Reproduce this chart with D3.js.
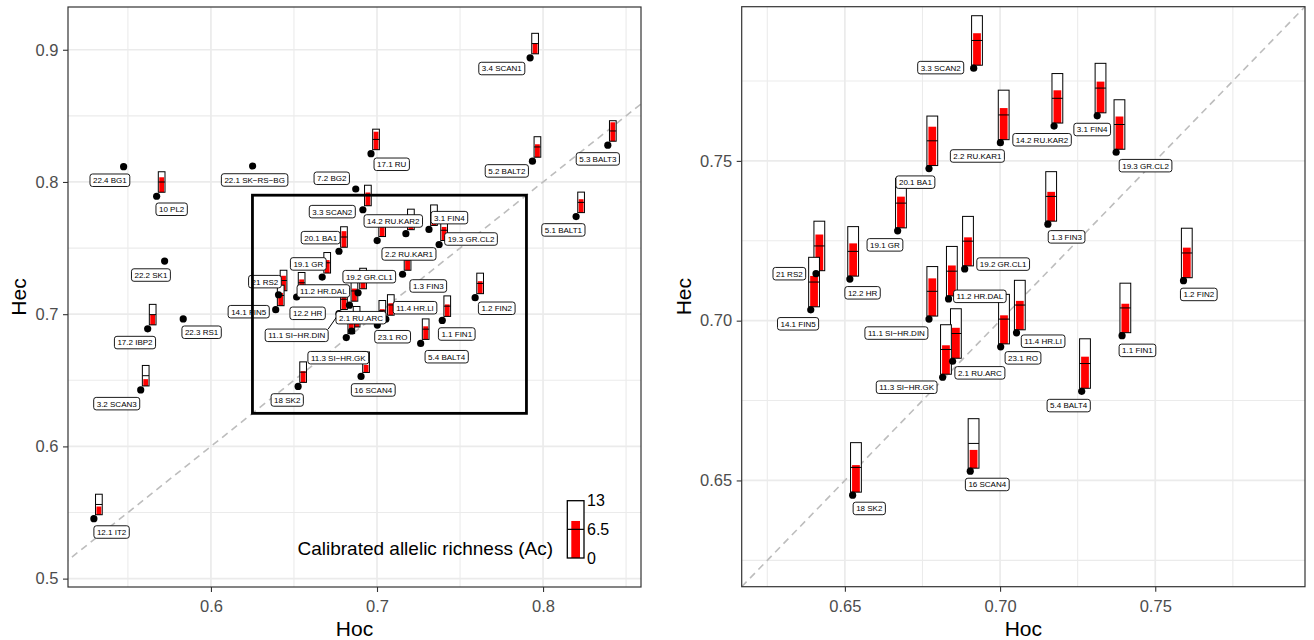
<!DOCTYPE html>
<html>
<head>
<meta charset="utf-8">
<script src="https://cdn.jsdelivr.net/npm/d3@7"></script>
<style>
  body { margin: 0; background: #fff; }
  text { font-family: "Liberation Sans", Arial, Helvetica, sans-serif; }
</style>
</head>
<body>
<svg id="chart" width="1314" height="640"></svg>
<script>
// Population labels
const popNames = [
  "22.4 BG1", "10 PL2", "22.1 SK-RS-BG", "7.2 BG2", "22.2 SK1", "17.2 IBP2", "22.3 RS1", "3.2 SCAN3", "12.1 IT2",
  "3.4 SCAN1", "17.1 RU", "5.2 BALT2", "5.3 BALT3", "5.1 BALT1",
  "3.3 SCAN2", "2.2 RU.KAR1", "20.1 BA1", "19.1 GR", "21 RS2", "14.1 FIN5", "12.2 HR", "19.2 GR.CL1",
  "11.2 HR.DAL", "11.1 SI-HR.DIN", "2.1 RU.ARC", "11.3 SI-HR.GK", "23.1 RO", "11.4 HR.LI", "14.2 RU.KAR2",
  "3.1 FIN4", "19.3 GR.CL2", "1.3 FIN3", "1.2 FIN2", "1.1 FIN1", "5.4 BALT4", "18 SK2", "16 SCAN4"
];
// Observed heterozygosity (x)
const hoc = [
  0.5474, 0.5673, 0.6251, 0.6872, 0.5721, 0.5619, 0.5833, 0.5577, 0.5295,
  0.7922, 0.6964, 0.7936, 0.8390, 0.8199,
  0.6915, 0.7001, 0.6771, 0.6670, 0.6407, 0.6390, 0.6516, 0.6886,
  0.6834, 0.6771, 0.6847, 0.6815, 0.7002, 0.7053, 0.7174,
  0.7313, 0.7374, 0.7154, 0.7591, 0.7393, 0.7263, 0.6525, 0.6904
];
// Expected heterozygosity (y)
const hec = [
  0.8116, 0.7892, 0.8121, 0.7947, 0.7402, 0.6889, 0.6964, 0.6427, 0.5453,
  0.8939, 0.8214, 0.8157, 0.8278, 0.7738,
  0.7790, 0.7557, 0.7476, 0.7281, 0.7147, 0.7034, 0.7130, 0.7162,
  0.7068, 0.7005, 0.6873, 0.6823, 0.6918, 0.6962, 0.7609,
  0.7641, 0.7527, 0.7302, 0.7125, 0.6953, 0.6779, 0.6454, 0.6529
];
// Calibrated allelic richness (null = not available)
const acValues = [
  null, 9.5, null, null, null, 6.5, null, 4.3, 5.2,
  6.7, 11.4, 8.2, 12.0, 8.5,
  8.4, 8.3, 10.2, 8.2, 9.5, 8.1, 8.6, 7.5,
  8.0, 9.9, 8.0, 7.6, 7.5, 7.6, 8.6,
  8.2, 8.6, 7.7, 7.9, 7.6, 8.3, 7.1, 4.8
];
const acMax = 13;
const legendAc = 8.4;
const legendTicks = [0, 6.5, 13];

// axis limits (before ggplot's 5% expansion)
const leftXLimits = [0.5296, 0.8433];
const leftYLimits = [0.5136, 0.9124];
// zoom window shown in the right panel
const zoomLimits = [0.625, 0.79];

const leftXTicks = [0.6, 0.7, 0.8];
const leftYTicks = [0.5, 0.6, 0.7, 0.8, 0.9];
const leftMinor = [0.55, 0.65, 0.75, 0.85];
const rightTicks = [0.65, 0.70, 0.75];
const rightMinor = [0.625, 0.675, 0.725, 0.775];

// label placement (pixel nudges from each point, as ggrepel placed them)
const labelNudgeLeft = {
  "22.4 BG1": [-13.7, 13.6], "10 PL2": [15, 13], "22.1 SK-RS-BG": [2, 14], "7.2 BG2": [-24, -10.7],
  "22.2 SK1": [-13.7, 14], "17.2 IBP2": [-12.7, 13.7], "22.3 RS1": [18.4, 13.3], "3.2 SCAN3": [-24, 13.7],
  "12.1 IT2": [17.7, 13.3], "3.4 SCAN1": [-28.3, 10.7], "17.1 RU": [20.7, 10.6], "5.2 BALT2": [-25.6, 9.7],
  "5.3 BALT3": [-10, 13.7], "5.1 BALT1": [-12.7, 13.3],
  "3.3 SCAN2": [-30.6, 1.9], "2.2 RU.KAR1": [31.8, 13.4], "20.1 BA1": [-18.3, -13.6], "19.1 GR": [-13.9, -13.1],
  "21 RS2": [-13.6, -13.1], "14.1 FIN5": [-27, 2], "12.2 HR": [11, 16.3], "19.2 GR.CL1": [11.2, -16.1],
  "11.2 HR.DAL": [-26.1, -14.2], "11.1 SI-HR.DIN": [-42.3, 21.8], "2.1 RU.ARC": [9.4, -13.3], "11.3 SI-HR.GK": [-8, 20.1],
  "23.1 RO": [15.3, 11.7], "11.4 HR.LI": [29.2, -11.5], "14.2 RU.KAR2": [-12.6, -12.7], "3.1 FIN4": [20.4, -11.8],
  "19.3 GR.CL2": [31.9, -5.5], "1.3 FIN3": [25.7, 11.7], "1.2 FIN2": [21.6, 10.6], "1.1 FIN1": [14.5, 13.6],
  "5.4 BALT4": [26, 13.3], "18 SK2": [-10.9, 13.6], "16 SCAN4": [12.2, 13.5]
};
const labelNudgeRight = {
  "3.3 SCAN2": [-33, -0.6], "2.2 RU.KAR1": [-23, 13.3], "20.1 BA1": [-13.6, 13.6], "19.1 GR": [-12.7, 14],
  "21 RS2": [-26.7, 0], "14.1 FIN5": [-12.7, 14], "12.2 HR": [12.7, 13.7], "19.2 GR.CL1": [38.5, -4.8],
  "11.2 HR.DAL": [31.3, -2.6], "11.1 SI-HR.DIN": [-32.6, 14], "2.1 RU.ARC": [27.3, 11.6], "11.3 SI-HR.GK": [-36, 10],
  "23.1 RO": [22.3, 11], "11.4 HR.LI": [26.6, 8.4], "14.2 RU.KAR2": [-12, 13.7], "3.1 FIN4": [-5, 13.7],
  "19.3 GR.CL2": [29.4, 13.4], "1.3 FIN3": [18.7, 12.7], "1.2 FIN2": [15.3, 13.7], "1.1 FIN1": [15.4, 14.7],
  "5.4 BALT4": [-13, 14.3], "18 SK2": [16.6, 13.3], "16 SCAN4": [17, 13.3]
};
const segmentLabelsLeft = ["11.1 SI-HR.DIN"];

const data = popNames.map((name, i) => ({ name, hoc: hoc[i], hec: hec[i], ac: acValues[i] }));

const svg = d3.select("#chart");

// expand limits by 5% like ggplot does
function expand(lim) {
  const r = lim[1] - lim[0];
  return [lim[0] - 0.05 * r, lim[1] + 0.05 * r];
}

const panels = [
  {
    id: "left",
    left: 68, right: 641, top: 7, bottom: 587,
    xDomain: expand(leftXLimits),
    yDomain: expand(leftYLimits),
    xTicks: leftXTicks, yTicks: leftYTicks, xMinor: leftMinor, yMinor: leftMinor,
    fmt: d3.format(".1f"),
    thermo: { w: 6.7, h: 20.5, dx: 5, dy: 4 },
    nudge: labelNudgeLeft,
    segments: segmentLabelsLeft,
    rows: data,
    yTitleX: 26
  },
  {
    id: "right",
    left: 741.7, right: 1305, top: 6.7, bottom: 586.7,
    xDomain: expand(zoomLimits),
    yDomain: expand(zoomLimits),
    xTicks: rightTicks, yTicks: rightTicks, xMinor: rightMinor, yMinor: rightMinor,
    fmt: d3.format(".2f"),
    thermo: { w: 10.8, h: 49.5, dx: 3.3, dy: 3 },
    nudge: labelNudgeRight,
    segments: [],
    rows: data.filter(d => d.hoc >= zoomLimits[0] && d.hoc <= zoomLimits[1] &&
                           d.hec >= zoomLimits[0] && d.hec <= zoomLimits[1]),
    yTitleX: 691
  }
];

panels.forEach(p => {
  const x = d3.scaleLinear().domain(p.xDomain).range([p.left, p.right]);
  const y = d3.scaleLinear().domain(p.yDomain).range([p.bottom, p.top]);

  const g = svg.append("g");
  g.append("clipPath").attr("id", "clip-" + p.id)
    .append("rect")
    .attr("x", p.left).attr("y", p.top)
    .attr("width", p.right - p.left).attr("height", p.bottom - p.top);

  const inner = g.append("g").attr("clip-path", `url(#clip-${p.id})`);

  // grid
  inner.selectAll(".vminor").data(p.xMinor).enter().append("line")
    .attr("x1", d => x(d)).attr("x2", d => x(d))
    .attr("y1", p.top).attr("y2", p.bottom)
    .attr("stroke", "#ebebeb").attr("stroke-width", 1.1);
  inner.selectAll(".hminor").data(p.yMinor).enter().append("line")
    .attr("y1", d => y(d)).attr("y2", d => y(d))
    .attr("x1", p.left).attr("x2", p.right)
    .attr("stroke", "#ebebeb").attr("stroke-width", 1.1);
  inner.selectAll(".vmajor").data(p.xTicks).enter().append("line")
    .attr("x1", d => x(d)).attr("x2", d => x(d))
    .attr("y1", p.top).attr("y2", p.bottom)
    .attr("stroke", "#ebebeb").attr("stroke-width", 1.7);
  inner.selectAll(".hmajor").data(p.yTicks).enter().append("line")
    .attr("y1", d => y(d)).attr("y2", d => y(d))
    .attr("x1", p.left).attr("x2", p.right)
    .attr("stroke", "#ebebeb").attr("stroke-width", 1.7);

  // 1:1 line
  const dLo = Math.min(p.xDomain[0], p.yDomain[0]);
  const dHi = Math.max(p.xDomain[1], p.yDomain[1]);
  inner.append("line")
    .attr("x1", x(dLo)).attr("y1", y(dLo))
    .attr("x2", x(dHi)).attr("y2", y(dHi))
    .attr("stroke", "#bdbdbd").attr("stroke-width", 1.6)
    .attr("stroke-dasharray", "7,5");

  // thermometers
  const t = p.thermo;
  const thermoRows = p.rows.filter(d => d.ac != null);
  const th = inner.selectAll(".thermo").data(thermoRows).enter().append("g");
  th.append("rect")
    .attr("x", d => x(d.hoc) + t.dx - t.w / 2)
    .attr("y", d => y(d.hec) - t.dy - t.h)
    .attr("width", t.w).attr("height", t.h)
    .attr("fill", "#fff");
  th.append("rect")
    .attr("x", d => x(d.hoc) + t.dx - t.w * 0.36)
    .attr("y", d => y(d.hec) - t.dy - t.h * d.ac / acMax)
    .attr("width", t.w * 0.72)
    .attr("height", d => t.h * d.ac / acMax)
    .attr("fill", "#ff0000");
  th.append("line")
    .attr("x1", d => x(d.hoc) + t.dx - t.w / 2)
    .attr("x2", d => x(d.hoc) + t.dx + t.w / 2)
    .attr("y1", d => y(d.hec) - t.dy - t.h / 2)
    .attr("y2", d => y(d.hec) - t.dy - t.h / 2)
    .attr("stroke", "#000").attr("stroke-width", 1);
  th.append("rect")
    .attr("x", d => x(d.hoc) + t.dx - t.w / 2)
    .attr("y", d => y(d.hec) - t.dy - t.h)
    .attr("width", t.w).attr("height", t.h)
    .attr("fill", "none").attr("stroke", "#000").attr("stroke-width", 1);

  // points
  inner.selectAll(".pt").data(p.rows).enter().append("circle")
    .attr("cx", d => x(d.hoc)).attr("cy", d => y(d.hec))
    .attr("r", 3.6).attr("fill", "#000");

  // labels
  const lab = inner.selectAll(".lab").data(p.rows).enter().append("g");
  lab.each(function(d) {
    const sel = d3.select(this);
    const nd = p.nudge[d.name] || [0, 14];
    const cx = x(d.hoc) + nd[0];
    const cy = y(d.hec) + nd[1];
    const txt = sel.append("text")
      .attr("x", cx).attr("y", cy + 2.9)
      .attr("text-anchor", "middle")
      .attr("font-size", 8)
      .attr("fill", "#000")
      .text(d.name.replace(/-/g, "\u2212"));
    const tw = txt.node().getComputedTextLength();
    const bw = tw + 6, bh = 12.5;
    if (p.segments.includes(d.name)) {
      const px = x(d.hoc), py = y(d.hec);
      const ex = Math.max(cx - bw / 2, Math.min(px, cx + bw / 2));
      const ey = Math.max(cy - bh / 2, Math.min(py, cy + bh / 2));
      sel.insert("line", "text")
        .attr("x1", ex).attr("y1", ey).attr("x2", px).attr("y2", py)
        .attr("stroke", "#000").attr("stroke-width", 1);
    }
    sel.insert("rect", "text")
      .attr("x", cx - bw / 2).attr("y", cy - bh / 2)
      .attr("width", bw).attr("height", bh)
      .attr("rx", 2.5).attr("ry", 2.5)
      .attr("fill", "#fff").attr("stroke", "#000").attr("stroke-width", 0.9);
  });

  // zoom window on the overview panel
  if (p.id === "left") {
    inner.append("rect")
      .attr("x", x(zoomLimits[0])).attr("y", y(zoomLimits[1]))
      .attr("width", x(zoomLimits[1]) - x(zoomLimits[0]))
      .attr("height", y(zoomLimits[0]) - y(zoomLimits[1]))
      .attr("fill", "none").attr("stroke", "#000").attr("stroke-width", 2.8);
  }

  // panel border
  g.append("rect")
    .attr("x", p.left).attr("y", p.top)
    .attr("width", p.right - p.left).attr("height", p.bottom - p.top)
    .attr("fill", "none").attr("stroke", "#333").attr("stroke-width", 1.2);

  // axes
  const xAxis = g.append("g")
    .attr("transform", `translate(0, ${p.bottom})`)
    .call(d3.axisBottom(x).tickValues(p.xTicks).tickFormat(p.fmt).tickSize(5).tickPadding(8.5));
  const yAxis = g.append("g")
    .attr("transform", `translate(${p.left}, 0)`)
    .call(d3.axisLeft(y).tickValues(p.yTicks).tickFormat(p.fmt).tickSize(5).tickPadding(4.5));
  [xAxis, yAxis].forEach(a => {
    a.select(".domain").remove();
    a.selectAll(".tick line").attr("stroke", "#333").attr("stroke-width", 1.1);
    a.selectAll(".tick text").attr("fill", "#4d4d4d").attr("font-size", 16.5)
      .attr("font-family", '"Liberation Sans", Arial, sans-serif');
  });

  // axis titles
  g.append("text")
    .attr("x", (p.left + p.right) / 2).attr("y", 635.5)
    .attr("text-anchor", "middle").attr("font-size", 21).attr("fill", "#000")
    .text("Hoc");
  g.append("text")
    .attr("transform", `translate(${p.yTitleX}, ${(p.top + p.bottom) / 2}) rotate(-90)`)
    .attr("text-anchor", "middle").attr("font-size", 21).attr("fill", "#000")
    .text("Hec");
});

// legend (inside left panel)
const lg = svg.append("g");
const legendScale = d3.scaleLinear().domain([0, acMax]).range([558, 500.7]);
const lw = 16.7;
const lx = 567.3;
lg.append("rect")
  .attr("x", lx).attr("y", legendScale(acMax))
  .attr("width", lw).attr("height", legendScale(0) - legendScale(acMax))
  .attr("fill", "#fff");
lg.append("rect")
  .attr("x", lx + 4).attr("y", legendScale(legendAc))
  .attr("width", lw - 8).attr("height", legendScale(0) - legendScale(legendAc))
  .attr("fill", "#ff0000");
lg.append("line")
  .attr("x1", lx).attr("x2", lx + lw)
  .attr("y1", legendScale(acMax / 2)).attr("y2", legendScale(acMax / 2))
  .attr("stroke", "#000").attr("stroke-width", 1.2);
lg.append("rect")
  .attr("x", lx).attr("y", legendScale(acMax))
  .attr("width", lw).attr("height", legendScale(0) - legendScale(acMax))
  .attr("fill", "none").attr("stroke", "#000").attr("stroke-width", 1.3);
lg.selectAll(".ltick").data(legendTicks).enter().append("text")
  .attr("x", lx + lw + 3)
  .attr("y", d => legendScale(d) + 5.5)
  .attr("font-size", 16).attr("fill", "#000")
  .text(d => d);
lg.append("text")
  .attr("x", 553).attr("y", 554.5)
  .attr("text-anchor", "end").attr("font-size", 19).attr("fill", "#000")
  .text("Calibrated allelic richness (Ac)");
</script>
</body>
</html>
